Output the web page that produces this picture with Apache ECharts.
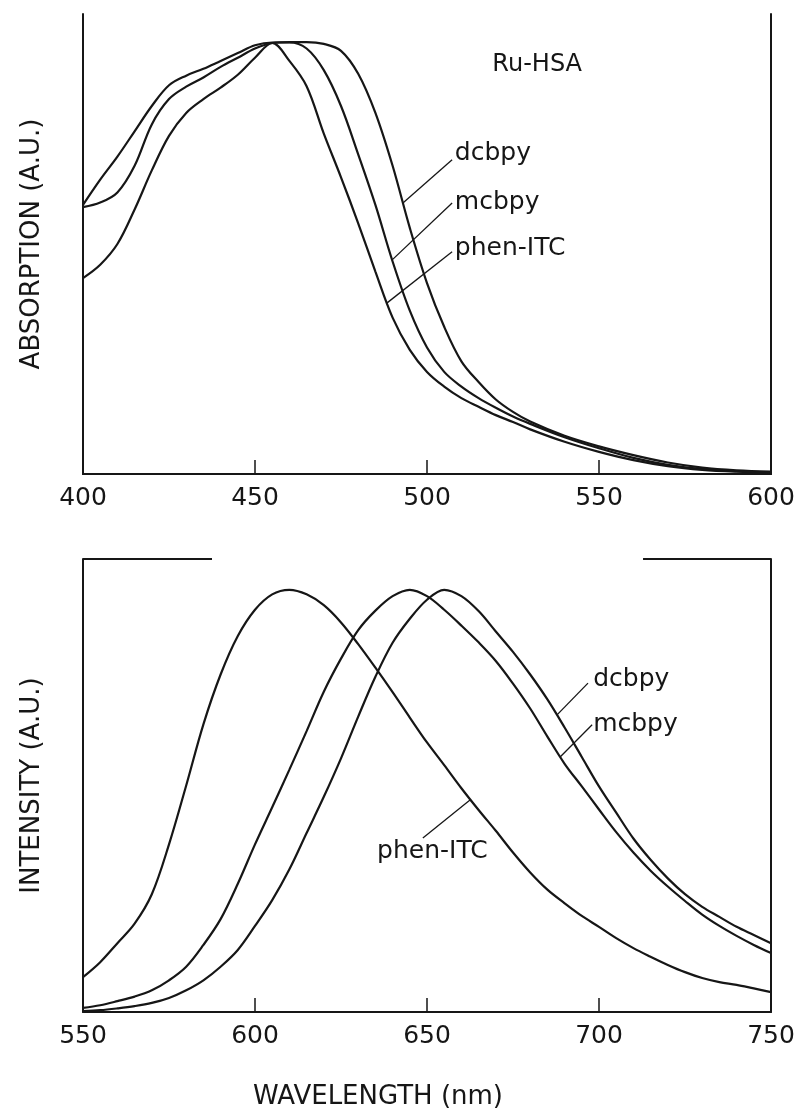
<!DOCTYPE html>
<html>
<head>
<meta charset="utf-8">
<title>Ru-HSA absorption and emission</title>
<script src="https://cdn.jsdelivr.net/npm/echarts/dist/echarts.min.js"></script>
<style>
  html, body { margin: 0; padding: 0; background: #fff; }
  #main { width: 803px; height: 1113px; }
</style>
</head>
<body>
<div id="main"></div>
<script>
// top panel: absorption, relative units
var absWavelength = [400,405,410,415,420,425,430,435,440,445,450,455,460,465,470,475,480,485,490,495,500,505,510,515,520,525,530,540,550,560,570,580,590,600];
var absDcbpy = [0.58,0.59,0.612,0.67,0.76,0.815,0.842,0.862,0.885,0.905,0.925,0.937,0.939,0.939,0.935,0.92,0.87,0.785,0.67,0.535,0.415,0.32,0.245,0.2,0.162,0.135,0.114,0.083,0.06,0.041,0.025,0.014,0.008,0.005];
var absMcbpy = [0.585,0.64,0.69,0.745,0.8,0.845,0.866,0.881,0.898,0.915,0.932,0.938,0.938,0.925,0.878,0.8,0.695,0.585,0.462,0.355,0.275,0.222,0.19,0.165,0.144,0.125,0.109,0.08,0.056,0.035,0.02,0.011,0.006,0.004];
var absPhen = [0.426,0.455,0.5,0.575,0.66,0.735,0.785,0.815,0.84,0.868,0.905,0.937,0.898,0.843,0.74,0.645,0.545,0.44,0.34,0.27,0.222,0.19,0.165,0.146,0.128,0.113,0.097,0.07,0.048,0.03,0.017,0.009,0.005,0.003];

// bottom panel: emission
var emWavelength = [550,555,560,565,570,575,580,585,590,595,600,605,610,615,620,625,630,635,640,645,650,655,660,665,670,675,680,685,690,695,700,705,710,715,720,725,730,735,740,745,750];
var emDcbpy = [0.002,0.004,0.008,0.013,0.02,0.031,0.048,0.07,0.1,0.137,0.19,0.247,0.315,0.395,0.475,0.56,0.652,0.74,0.815,0.868,0.91,0.932,0.918,0.885,0.84,0.795,0.745,0.69,0.628,0.563,0.498,0.44,0.383,0.336,0.295,0.26,0.232,0.21,0.188,0.17,0.152];
var emMcbpy = [0.009,0.015,0.024,0.034,0.048,0.07,0.1,0.148,0.205,0.283,0.37,0.452,0.535,0.62,0.707,0.78,0.843,0.886,0.918,0.932,0.918,0.888,0.853,0.816,0.775,0.725,0.67,0.608,0.548,0.498,0.447,0.397,0.352,0.312,0.277,0.245,0.215,0.19,0.168,0.148,0.13];
var emPhen = [0.077,0.11,0.152,0.195,0.26,0.37,0.5,0.635,0.745,0.83,0.888,0.922,0.932,0.922,0.898,0.86,0.812,0.76,0.706,0.65,0.595,0.545,0.494,0.446,0.4,0.352,0.308,0.27,0.24,0.212,0.188,0.163,0.141,0.122,0.104,0.088,0.075,0.066,0.06,0.052,0.044];

var absTicks = [400, 600, 50];
var emTicks = [550, 750, 50];

// curve labels: [text, panel, label anchor, leader start on curve, leader end]
var curveLabels = [
  ['dcbpy', 0, [508.1, 0.696], [493, 0.589], [507.3, 0.683]],
  ['mcbpy', 0, [508.1, 0.591], [489.8, 0.465], [507.3, 0.589]],
  ['phen-ITC', 0, [508.1, 0.491], [488.4, 0.372], [507.3, 0.483]],
  ['dcbpy', 1, [698.3, 0.735], [687.8, 0.656], [696.8, 0.726]],
  ['mcbpy', 1, [698.3, 0.634], [688.7, 0.563], [698, 0.634]],
  ['phen-ITC', 1, [635.5, 0.355], [662.5, 0.468], [648.8, 0.384]]
];
// broken top border of the lower panel
var emTopSegments = [[550, 587.5], [712.8, 750]];

var INK = '#161616';
var FONT = 'DejaVu Sans';

var chart = echarts.init(document.getElementById('main'));

function pairs(xs, ys) {
  return xs.map(function (x, i) { return [x, ys[i]]; });
}

function leaders(panel) {
  return curveLabels.filter(function (l) { return l[1] === panel; }).map(function (l) {
    return [{coord: l[3]}, {coord: l[4]}];
  });
}

function curve(name, xs, ys, panel, extra) {
  var s = {
    name: name,
    type: 'line',
    xAxisIndex: panel === 0 ? 0 : 2,
    yAxisIndex: panel === 0 ? 0 : 2,
    data: pairs(xs, ys),
    smooth: 0.35,
    showSymbol: false,
    lineStyle: {color: INK, width: 2.2},
    z: 3
  };
  if (extra) s.markLine = extra;
  return s;
}

function mark(data, width) {
  return {
    silent: true,
    symbol: 'none',
    label: {show: false},
    lineStyle: {color: INK, width: width, type: 'solid'},
    data: data
  };
}

function bottomAxis(grid, ticks) {
  return {
    type: 'value', gridIndex: grid, min: ticks[0], max: ticks[1], interval: ticks[2],
    axisLine: {lineStyle: {color: INK, width: 2}},
    axisTick: {inside: true, length: 14, lineStyle: {color: INK, width: 1.5}},
    axisLabel: {color: INK, fontFamily: FONT, fontSize: 25, margin: 12},
    splitLine: {show: false}
  };
}

function plainY(grid, pos, name) {
  return {
    type: 'value', gridIndex: grid, min: 0, max: 1, position: pos,
    name: name, nameLocation: 'middle', nameGap: 38,
    nameTextStyle: {color: INK, fontFamily: FONT, fontSize: 26},
    axisLine: {show: true, lineStyle: {color: INK, width: 2}},
    axisTick: {show: false}, axisLabel: {show: false}, splitLine: {show: false}
  };
}

var option = {
  animation: false,
  backgroundColor: '#fff',
  grid: [
    {left: 83, top: 14, width: 688, height: 460},
    {left: 83, top: 559, width: 688, height: 453}
  ],
  xAxis: [
    bottomAxis(0, absTicks),
    {type: 'value', gridIndex: 0, position: 'top', min: absTicks[0], max: absTicks[1],
      axisLine: {lineStyle: {color: INK, width: 2}}, axisTick: {show: false},
      axisLabel: {show: false}, splitLine: {show: false}},
    bottomAxis(1, emTicks)
  ],
  yAxis: [
    plainY(0, 'left', 'ABSORPTION (A.U.)'),
    plainY(0, 'right', ''),
    plainY(1, 'left', 'INTENSITY (A.U.)'),
    plainY(1, 'right', '')
  ],
  series: [
    curve('dcbpy', absWavelength, absDcbpy, 0, mark(leaders(0), 1.3)),
    curve('mcbpy', absWavelength, absMcbpy, 0),
    curve('phen-ITC', absWavelength, absPhen, 0),
    curve('dcbpy', emWavelength, emDcbpy, 1, mark(leaders(1).concat(emTopSegments.map(function (s) {
      return [{coord: [s[0], 1]}, {coord: [s[1], 1]}];
    })), 1.3)),
    curve('mcbpy', emWavelength, emMcbpy, 1),
    curve('phen-ITC', emWavelength, emPhen, 1)
  ]
};
// the top border pieces are heavier than the leader lines
option.series[3].markLine.data.forEach(function (d, i) {
  if (i >= 3) d[0].lineStyle = {color: INK, width: 2, type: 'solid'};
});

chart.setOption(option);

// text annotations, anchored in data coordinates
var texts = curveLabels.map(function (l) {
  return {text: l[0], grid: l[1], at: l[2], size: 25};
});
texts.push({text: 'Ru-HSA', grid: 0, at: [519, 0.889], size: 24});

var graphics = texts.map(function (t) {
  var p = chart.convertToPixel({gridIndex: t.grid}, t.at);
  return {
    type: 'text', x: p[0], y: p[1], z: 10,
    style: {text: t.text, fill: INK, font: t.size + 'px "' + FONT + '"', verticalAlign: 'middle', align: 'left'}
  };
});
graphics.push({
  type: 'text', x: 378, y: 1097, z: 10,
  style: {text: 'WAVELENGTH (nm)', fill: INK, font: '26px "' + FONT + '"', verticalAlign: 'middle', align: 'center'}
});
chart.setOption({graphic: graphics});
</script>
</body>
</html>
